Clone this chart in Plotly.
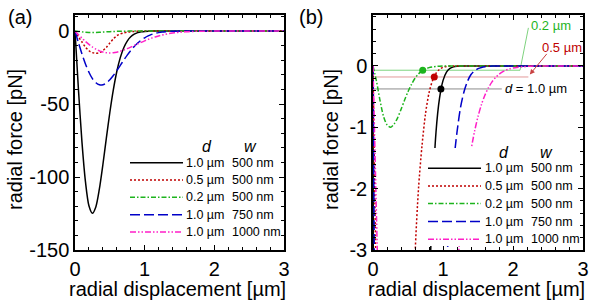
import plotly.graph_objects as go

W, H = 598, 301

# ---------------- data ----------------
x_um = [0.0, 0.05, 0.1, 0.15, 0.2, 0.25, 0.3, 0.35, 0.4, 0.45,
        0.5, 0.55, 0.6, 0.65, 0.7, 0.75, 0.8, 0.85, 0.9, 0.95,
        1.0, 1.05, 1.1, 1.15, 1.2, 1.25, 1.3, 1.35, 1.4, 1.45,
        1.5, 1.55, 1.6, 1.65, 1.7, 1.75, 1.8, 1.85, 1.9, 1.95,
        2.0, 2.25, 2.5, 2.75, 3.0]

f_d10_w500 = [0, -40.4, -76.1, -103.2, -119.7, -124.9, -120.3, -108.2, -91.6, -73.4,
              -55.8, -40.3, -27.7, -18.2, -11.4, -6.86, -3.94, -2.16, -1.08, -0.53,
              -0.24, -0.10, -0.04, -0.015, -0.005, -0.001, 0, 0, 0, 0,
              0, 0, 0, 0, 0, 0, 0, 0, 0, 0,
              0, 0, 0, 0, 0]

f_d05_w500 = [0, -4.0, -7.5, -11.0, -13.5, -14.8, -15.2, -14.8, -13.4, -11.2,
              -8.2, -5.4, -3.1, -2.0, -1.3, -0.78, -0.44, -0.24, -0.12, -0.055,
              -0.022, -0.008, -0.002, 0, 0, 0, 0, 0, 0, 0,
              0, 0, 0, 0, 0, 0, 0, 0, 0, 0,
              0, 0, 0, 0, 0]

f_d02_w500 = [0, -0.25, -0.56, -0.82, -0.96, -1.0, -0.95, -0.85, -0.71, -0.56,
              -0.42, -0.30, -0.20, -0.13, -0.08, -0.05, -0.028, -0.015, -0.008, -0.004,
              -0.002, -0.001, 0, 0, 0, 0, 0, 0, 0, 0,
              0, 0, 0, 0, 0, 0, 0, 0, 0, 0,
              0, 0, 0, 0, 0]

f_d10_w750 = [0, -8.1, -15.7, -22.5, -28.2, -32.6, -35.4, -36.8, -36.8, -35.6,
              -33.4, -30.5, -27.1, -23.5, -19.9, -16.5, -13.4, -10.6, -8.2, -6.2,
              -4.6, -3.3, -2.3, -1.6, -1.08, -0.68, -0.42, -0.25, -0.14, -0.08,
              -0.045, -0.025, -0.013, -0.006, -0.003, -0.001, 0, 0, 0, 0,
              0, 0, 0, 0, 0]

f_d10_w1000 = [0, -2.46, -4.85, -7.10, -9.14, -10.92, -12.40, -13.56, -14.38, -14.86,
               -15.01, -14.87, -14.46, -13.82, -13.00, -12.05, -11.01, -9.92, -8.82, -7.74,
               -6.70, -5.73, -4.84, -4.04, -3.33, -2.72, -2.19, -1.745, -1.375, -1.071,
               -0.825, -0.628, -0.473, -0.353, -0.260, -0.190, -0.137, -0.098, -0.069, -0.048,
               -0.033, -0.004, 0, 0, 0]

series = [f_d10_w500, f_d05_w500, f_d02_w500, f_d10_w750, f_d10_w1000]
d_labels = ["1.0 µm", "0.5 µm", "0.2 µm", "1.0 µm", "1.0 µm"]
w_labels = ["500 nm", "500 nm", "500 nm", "750 nm", "1000 nm"]

# marked points / reference levels in panel (b)
mark_x = [0.71, 0.875, 0.97]
mark_y = [-0.07, -0.18, -0.375]
level_end_x = [2.1, 2.22, 1.84]
mark_labels = ["0.2 µm", "0.5 µm", "<i>d</i> = 1.0 µm"]

x_ticks = [0, 1, 2, 3]
x_ticktext = ["0", "1", "2", "3"]
ya_ticks = [-150, -100, -50, 0]
ya_ticktext = ["-150", "-100", "-50", "0"]
yb_ticks = [-3, -2, -1, 0]
yb_ticktext = ["-3", "-2", "-1", "0"]

# ---------------- styles ----------------
colors = ["#000000", "#C00000", "#1DB41D", "#0000C8", "#FF1FC8"]
dashes = ["solid", "2px,2px", "5px,2px,1.5px,2px", "10px,4px", "6px,2px,1.5px,2px,1.5px,2px"]
mark_colors = ["#1DB41D", "#C00000", "#000000"]
level_colors = ["#7FD37F", "#E29A9A", "#8C8C8C"]
FONT = "Liberation Sans, Arial, sans-serif"


def pxx(p):
    return p / W


def pxy(p):
    return 1 - p / H


fig = go.Figure()

# reference levels (panel b)
for i in range(3):
    fig.add_trace(go.Scatter(x=[0, level_end_x[i]], y=[mark_y[i], mark_y[i]], mode="lines",
                             line=dict(color=level_colors[i], width=1), xaxis="x2", yaxis="y2",
                             showlegend=False, hoverinfo="skip"))
# green leader line
fig.add_trace(go.Scatter(x=[level_end_x[0], 2.22], y=[mark_y[0], 0.62], mode="lines",
                         line=dict(color=level_colors[0], width=1), xaxis="x2", yaxis="y2",
                         showlegend=False, hoverinfo="skip"))

for xa, ya in [("x", "y"), ("x2", "y2")]:
    for i, ys in enumerate(series):
        fig.add_trace(go.Scatter(
            x=x_um, y=ys, mode="lines",
            line=dict(color=colors[i], width=1.5, dash=dashes[i], shape="spline", smoothing=0.8),
            xaxis=xa, yaxis=ya, showlegend=False,
            name=f"{d_labels[i]} {w_labels[i]}"))

fig.add_trace(go.Scatter(x=mark_x, y=mark_y, mode="markers",
                         marker=dict(color=mark_colors, size=7), xaxis="x2", yaxis="y2",
                         showlegend=False))

axis_common = dict(showline=True, linecolor="black", linewidth=1.5, mirror="ticks",
                   ticks="inside", ticklen=5, tickwidth=1, tickcolor="black",
                   showgrid=False, zeroline=False, automargin=False,
                   tickfont=dict(family=FONT, size=20, color="black"))

fig.update_layout(
    width=W, height=H, margin=dict(l=0, r=0, t=0, b=0, pad=0),
    paper_bgcolor="white", plot_bgcolor="white",
    font=dict(family=FONT, color="black"),
    xaxis=dict(domain=[pxx(75), pxx(284)], range=[0, 3], anchor="y",
               tickvals=x_ticks, ticktext=x_ticktext,
               minor=dict(dtick=0.2, ticks="inside", ticklen=3, tickcolor="black"),
               **axis_common),
    yaxis=dict(domain=[pxy(250), pxy(15)], range=[-150, 11], anchor="x",
               tickvals=ya_ticks, ticktext=ya_ticktext,
               minor=dict(dtick=10, ticks="inside", ticklen=3, tickcolor="black"),
               **axis_common),
    xaxis2=dict(domain=[pxx(373), pxx(583)], range=[0, 3], anchor="y2",
                tickvals=x_ticks, ticktext=x_ticktext,
                minor=dict(dtick=0.2, ticks="inside", ticklen=3, tickcolor="black"),
                **axis_common),
    yaxis2=dict(domain=[pxy(250), pxy(15)], range=[-3, 0.83], anchor="x2",
                tickvals=yb_ticks, ticktext=yb_ticktext,
                minor=dict(dtick=0.2, ticks="inside", ticklen=3, tickcolor="black"),
                **axis_common),
)

shapes = []
annotations = []

# white backdrop of legend (b)
shapes.append(dict(type="rect", xref="paper", yref="paper", layer="above",
                   x0=pxx(425), x1=pxx(577), y0=pxy(246), y1=pxy(148),
                   fillcolor="white", line=dict(width=0)))

legend_specs = [
    dict(rows=[162.7, 180.0, 197.3, 214.7, 232.0], lx0=130, lx1=183, t1=184, t2=230,
         hd=206.7, hw=250, hy=146),
    dict(rows=[168.3, 186.0, 203.5, 221.5, 239.3], lx0=428, lx1=481, t1=483, t2=529,
         hd=504, hw=546.7, hy=152.3),
]
for spec in legend_specs:
    for i, ry in enumerate(spec["rows"]):
        shapes.append(dict(type="line", xref="paper", yref="paper", layer="above",
                           x0=pxx(spec["lx0"]), x1=pxx(spec["lx1"]), y0=pxy(ry), y1=pxy(ry),
                           line=dict(color=colors[i], width=1.5, dash=dashes[i])))
        annotations.append(dict(xref="paper", yref="paper", x=pxx(spec["t1"]), y=pxy(ry),
                                xanchor="left", yanchor="middle", showarrow=False,
                                text=d_labels[i], font=dict(size=12.5, family=FONT)))
        annotations.append(dict(xref="paper", yref="paper", x=pxx(spec["t2"]), y=pxy(ry),
                                xanchor="left", yanchor="middle", showarrow=False,
                                text=w_labels[i], font=dict(size=12.5, family=FONT)))
    annotations.append(dict(xref="paper", yref="paper", x=pxx(spec["hd"]), y=pxy(spec["hy"]),
                            xanchor="center", yanchor="middle", showarrow=False,
                            text="<i>d</i>", font=dict(size=16, family=FONT)))
    annotations.append(dict(xref="paper", yref="paper", x=pxx(spec["hw"]), y=pxy(spec["hy"]),
                            xanchor="center", yanchor="middle", showarrow=False,
                            text="<i>w</i>", font=dict(size=16, family=FONT)))

# panel labels
annotations.append(dict(xref="paper", yref="paper", x=pxx(20), y=pxy(17), showarrow=False,
                        xanchor="center", yanchor="middle", text="(a)", font=dict(size=20)))
annotations.append(dict(xref="paper", yref="paper", x=pxx(311), y=pxy(17), showarrow=False,
                        xanchor="center", yanchor="middle", text="(b)", font=dict(size=20)))

# axis titles
for cx in [177.5, 476]:
    annotations.append(dict(xref="paper", yref="paper", x=pxx(cx), y=pxy(289), showarrow=False,
                            xanchor="center", yanchor="middle", text="radial displacement [µm]",
                            font=dict(size=20)))
for cx in [15, 331]:
    annotations.append(dict(xref="paper", yref="paper", x=pxx(cx), y=pxy(140), showarrow=False,
                            xanchor="center", yanchor="middle", text="radial force [pN]",
                            textangle=-90, font=dict(size=20)))

# labels in panel (b)
annotations.append(dict(xref="x2", yref="y2", x=2.23, y=0.655, showarrow=False,
                        xanchor="left", yanchor="middle", text=mark_labels[0],
                        font=dict(size=13, color=mark_colors[0])))
annotations.append(dict(xref="x2", yref="y2", x=2.38, y=0.30, showarrow=False,
                        xanchor="left", yanchor="middle", text=mark_labels[1],
                        font=dict(size=13, color=mark_colors[1])))
annotations.append(dict(xref="x2", yref="y2", x=2.24, y=-0.14, ax=2.5, ay=0.22,
                        axref="x2", ayref="y2", showarrow=True, arrowhead=2, arrowsize=1,
                        arrowwidth=1, arrowcolor="#C84040", text=""))
annotations.append(dict(xref="x2", yref="y2", x=1.86, y=mark_y[2], showarrow=False,
                        xanchor="left", yanchor="middle", text=mark_labels[2],
                        font=dict(size=13, color="black")))

fig.update_layout(shapes=shapes, annotations=annotations)

fig.write_html("out.html",
               config={"displayModeBar": False},
               post_script="document.body.style.margin='0';document.body.style.overflow='hidden';")
